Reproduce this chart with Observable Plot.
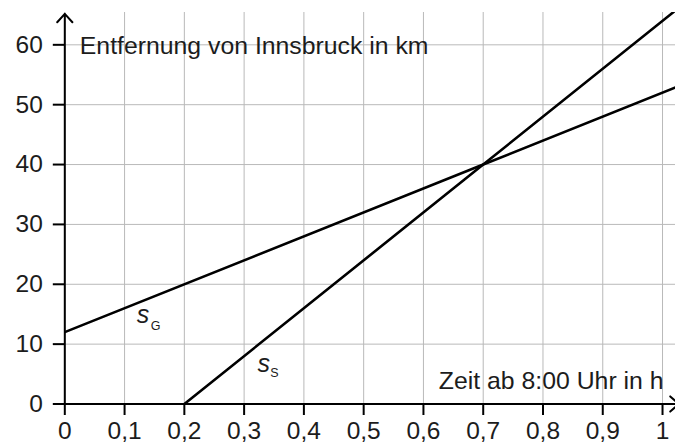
<!DOCTYPE html>
<html><head><meta charset="utf-8">
<script src="https://cdn.jsdelivr.net/npm/d3@7"></script>
<script src="https://cdn.jsdelivr.net/npm/@observablehq/plot@0.6"></script>
<style>body{margin:0;background:#fff}</style>
</head><body><div id="chart"></div>
<script>
// --- data ---
const xTicks = [0, 0.1, 0.2, 0.3, 0.4, 0.5, 0.6, 0.7, 0.8, 0.9, 1];
const yTicks = [0, 10, 20, 30, 40, 50, 60];
const sG_t  = [0, 0.7, 1.03];
const sG_km = [12, 40, 53.2];
const sS_t  = [0.2, 0.7, 1.03];
const sS_km = [0, 40, 66.4];
const yTitle = "Entfernung von Innsbruck in km";
const xTitle = "Zeit ab 8:00 Uhr in h";

const sG = sG_t.map((t, i) => ({t, km: sG_km[i]}));
const sS = sS_t.map((t, i) => ({t, km: sS_km[i]}));
const fmt = d => String(d).replace(".", ",");
const ink = "#1c1c1c";

const plot = Plot.plot({
  width: 675, height: 443,
  marginLeft: 64.3, marginRight: 0, marginTop: 12, marginBottom: 39.5,
  x: {domain: [0, 1.0217]},
  y: {domain: [0, 65.4]},
  style: {fontFamily: "'Liberation Sans', Arial, sans-serif", fontSize: "24.5px", background: "white", color: ink},
  marks: [
    Plot.gridX(xTicks, {stroke: "#b9b9b9", strokeOpacity: 1, strokeWidth: 1}),
    Plot.gridY(yTicks, {stroke: "#b9b9b9", strokeOpacity: 1, strokeWidth: 1}),
    Plot.text([{x: 0, y: 60, s: yTitle}], {x: "x", y: "y", text: "s", textAnchor: "start", dx: 15, dy: 1.3, fill: ink, fontSize: 24.8, ariaLabel: "boxed"}),
    Plot.text([{x: 1, y: 0, s: xTitle}], {x: "x", y: "y", text: "s", textAnchor: "end", dx: 1, dy: -22.5, fill: ink, fontSize: 24.8, ariaLabel: "boxed"}),
    Plot.line(sG, {x: "t", y: "km", stroke: "black", strokeWidth: 2.6, clip: true}),
    Plot.line(sS, {x: "t", y: "km", stroke: "black", strokeWidth: 2.6, clip: true}),
    Plot.axisX({ticks: xTicks, tickSize: 11.5, tickPadding: 6.3, tickFormat: fmt, stroke: "black", strokeWidth: 2, fill: ink, label: null, fontSize: 24.5}),
    Plot.axisY({ticks: yTicks, tickSize: 11.5, tickPadding: 10.5, tickFormat: fmt, stroke: "black", strokeWidth: 2, fill: ink, label: null, fontSize: 24.5}),
    Plot.arrow([{x1: 0, y1: 0, x2: 0, y2: 65.18}], {x1: "x1", y1: "y1", x2: "x2", y2: "y2", stroke: "black", strokeWidth: 2, headLength: 8.5, headAngle: 84}),
    Plot.arrow([{x1: 0, y1: 0, x2: 1.027, y2: 0}], {x1: "x1", y1: "y1", x2: "x2", y2: "y2", stroke: "black", strokeWidth: 2, headLength: 8.5, headAngle: 84}),
    Plot.text([{x: 0.131, y: 14.8}], {x: "x", y: "y", text: () => "s", fontStyle: "italic", fontSize: 25, fill: ink}),
    Plot.text([{x: 0.1518, y: 13.1}], {x: "x", y: "y", text: () => "G", fontSize: 12.5, fill: ink}),
    Plot.text([{x: 0.333, y: 6.72}], {x: "x", y: "y", text: () => "s", fontStyle: "italic", fontSize: 25, fill: ink}),
    Plot.text([{x: 0.3509, y: 5.15}], {x: "x", y: "y", text: () => "S", fontSize: 12.5, fill: ink})
  ]
});
document.getElementById("chart").appendChild(plot);
// white boxes behind the axis titles
plot.querySelectorAll('g[aria-label="boxed"] text').forEach(t => {
  const b = t.getBBox();
  const r = document.createElementNS("http://www.w3.org/2000/svg", "rect");
  r.setAttribute("x", b.x - 6); r.setAttribute("y", b.y);
  r.setAttribute("width", b.width + 12); r.setAttribute("height", b.height);
  r.setAttribute("fill", "white");
  t.parentNode.insertBefore(r, t);
});
</script>
</body></html>
